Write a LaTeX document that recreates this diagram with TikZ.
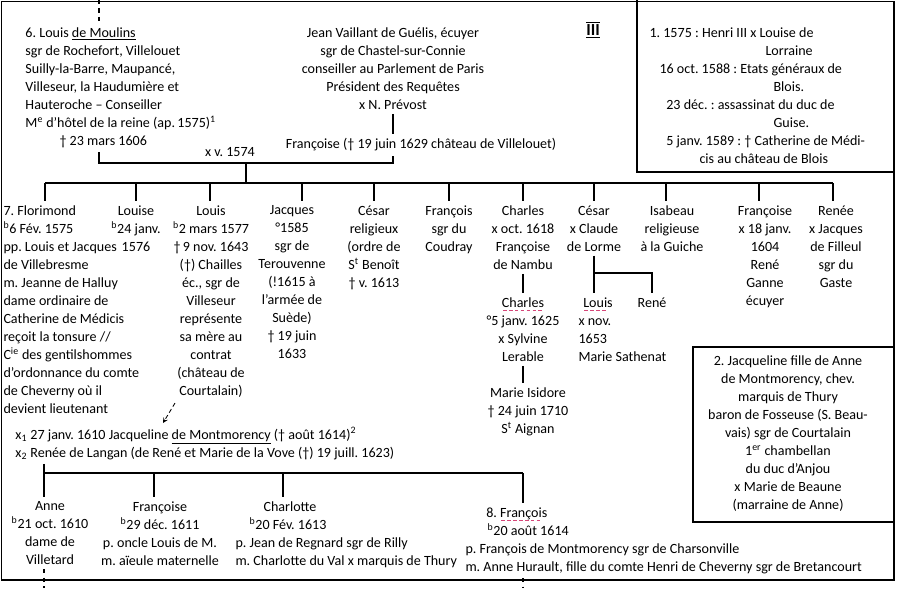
\documentclass[tikz,border=0pt]{standalone}
\usepackage{fontspec}
\setmainfont{Carlito}
\frenchspacing
\definecolor{dashpink}{RGB}{214,70,120}
\newcommand{\pinkul}[1]{\setbox0\hbox{#1}\rlap{\textcolor{dashpink}{\leaders\hbox to 0.42em{\hss\rule[-0.6ex]{0.26em}{0.6pt}\hss}\hskip\wd0}}\box0}

\begin{document}
\begin{tikzpicture}[>=stealth, x=0.025cm, y=-0.025cm,
	person/.style={
		% The text:
		font=\fontsize{10}{12.8}\selectfont,
		% The padding:
		inner sep=3pt,
		% The lines:
		align=center},
	tree/.style={line width=1.1pt},
	frame/.style={line width=0.9pt},
	pointer/.style={->, densely dashed, line width=0.6pt}]
    \useasboundingbox (0,0) rectangle (899,588);
    \draw [frame] (1.5,1.5) rectangle (894,580);
    \draw [line width=1.8pt] (637,0) -- (637,172) -- (895,172);
    \draw [frame] (693,347) rectangle (894,522);
    % parents
    \node [person, anchor=north west, align=left] (louis) at (21,23) {6. Louis \underline{de Moulins}\\ sgr de Rochefort, Villelouet\\ Suilly-la-Barre, Maupancé,\\ Villeseur, la Haudumière et\\ Hauteroche -- Conseiller\\ M\textsuperscript{e} d'hôtel de la reine (ap.\,1575)\textsuperscript{1}\\ \hspace*{0.85cm}† 23 mars 1606};
    \node [person, anchor=north] (jean) at (393,23) {Jean Vaillant de Guélis, écuyer\\ sgr de Chastel-sur-Connie\\ conseiller au Parlement de Paris\\ Président des Requêtes\\ x N. Prévost};
    \node [person, anchor=north] (fra) at (421,134) {Françoise († 19 juin 1629 château de Villelouet)};
    \node [person, font=\fontsize{12}{14}\selectfont\bfseries] (tome) at (593,30) {$\overline{\underline{\mbox{III}}}$};
    \node [person, anchor=north west, align=left] (note1) at (645,23) {1. 1575 : Henri III x Louise de\\ \hspace*{2.9cm}Lorraine\\ \hspace*{0.25cm}16 oct. 1588 : Etats généraux de\\ \hspace*{3.1cm}Blois.\\ \hspace*{0.42cm}23 déc. : assassinat du duc de\\ \hspace*{3.1cm}Guise.\\ \hspace*{0.42cm}5 janv. 1589 : † Catherine de Médi-\\ \hspace*{1.25cm}cis au château de Blois};
    \coordinate (top) at (99,0);
    \coordinate (mL) at (99,163);
    \coordinate (mF) at (393,163);
    \coordinate (mM) at (246,163);
    \coordinate (bus) at (246,183);
    \draw [tree, dashed] (top) -- (top |- louis.north);
    \draw [tree] (mL |- louis.south) -- (mL) -- (mF) -- (mF |- fra.south);
    \draw [tree] (jean.south) -- (jean.south |- fra.north);
    \node [person, anchor=south] (m1574) at (230,161) {x v. 1574};
    \draw [tree] (mM) -- (bus);
    % children
    \coordinate (b1) at (45,183);
    \coordinate (b2) at (136,183);
    \coordinate (b3) at (210,183);
    \coordinate (b4) at (302,183);
    \coordinate (b5) at (374,183);
    \coordinate (b6) at (449,183);
    \coordinate (b7) at (523,183);
    \coordinate (b8) at (594,183);
    \coordinate (b9) at (666,183);
    \coordinate (b10) at (759,183);
    \coordinate (b11) at (833,183);
    \node [person, anchor=north west, align=left] (c1) at (-1,201) {7. Florimond\\ \textsuperscript{b}6 Fév. 1575\\ pp. Louis et Jacques\\ de Villebresme\\ m. Jeanne de Halluy\\ dame ordinaire de\\ Catherine de Médicis\\ reçoit la tonsure //\\ C\textsuperscript{ie} des gentilshommes\\ d'ordonnance du comte\\ de Cheverny où il\\ devient lieutenant};
    \node [person, anchor=north] (c2) at (136,201) {Louise\\ \textsuperscript{b}24 janv.\\ 1576};
    \node [person, anchor=north] (c3) at (211,201) {Louis\\ \textsuperscript{b}2 mars 1577\\ †\,9 nov. 1643\\ (†) Chailles\\ éc., sgr de\\ Villeseur\\ représente\\ sa mère au\\ contrat\\ (château de\\ Courtalain)};
    \node [person, anchor=north] (c4) at (292,201) {Jacques\\ °1585\\ sgr de\\ Terouvenne\\ (!1615 à\\ l'armée de\\ Suède)\\ † 19 juin\\ 1633};
    \node [person, anchor=north] (c5) at (374,201) {César\\ religieux\\ (ordre de\\ S\textsuperscript{t} Benoît\\ † v. 1613};
    \node [person, anchor=north] (c6) at (449,201) {François\\ sgr du\\ Coudray};
    \node [person, anchor=north] (c7) at (523,201) {Charles\\ x oct. 1618\\ Françoise\\ de Nambu};
    \node [person, anchor=north] (c8) at (594,201) {César\\ x Claude\\ de Lorme};
    \node [person, anchor=north] (c9) at (672,201) {Isabeau\\ religieuse\\ à la Guiche};
    \node [person, anchor=north] (c10) at (765,201) {Françoise\\ x 18 janv.\\ 1604\\ René\\ Ganne\\ écuyer};
    \node [person, anchor=north] (c11) at (836,201) {Renée\\ x Jacques\\ de Filleul\\ sgr du\\ Gaste};
    \draw [tree] (b1) -- (b11);
    \draw [tree] (b1) -- (b1 |- c1.north);
    \draw [tree] (b2) -- (b2 |- c2.north);
    \draw [tree] (b3) -- (b3 |- c3.north);
    \draw [tree] (b4) -- (b4 |- c4.north);
    \draw [tree] (b5) -- (b5 |- c5.north);
    \draw [tree] (b6) -- (b6 |- c6.north);
    \draw [tree] (b7) -- (b7 |- c7.north);
    \draw [tree] (b8) -- (b8 |- c8.north);
    \draw [tree] (b9) -- (b9 |- c9.north);
    \draw [tree] (b10) -- (b10 |- c10.north);
    \draw [tree] (b11) -- (b11 |- c11.north);
    % grandchildren of Charles and César
    \node [person, anchor=north] (c7a) at (523,293) {\pinkul{Charles}\\ °5 janv. 1625\\ x Sylvine\\ Lerable};
    \node [person, anchor=north] (c7b) at (528,383) {Marie Isidore\\ † 24 juin 1710\\ S\textsuperscript{t} Aignan};
    \draw [tree] (c7) -- (c7a);
    \draw [tree] (c7a.south -| c7) -- (c7a.south |- c7b.north);
    \node [person, anchor=north west, align=left] (c8a) at (574,293) {\hspace*{0.12cm}\pinkul{Louis}\\ x nov.\\ 1653\\ Marie Sathenat};
    \node [person, anchor=north] (c8b) at (652,293) {René};
    \coordinate (br8) at (594,273);
    \draw [tree] (c8) -- (c8 |- c8a.north);
    \draw [tree] (br8) -| (c8b.north);
    \node [person] (note2) at (788,434) {2. Jacqueline fille de Anne\\ de Montmorency, chev.\\ marquis de Thury\\ baron de Fosseuse (S. Beau-\\ vais) sgr de Courtalain\\ 1\textsuperscript{er} chambellan\\ du duc d'Anjou\\ x Marie de Beaune\\ (marraine de Anne)};
    % Florimond's marriages
    \node [person, anchor=north west, align=left] (fmar) at (11,423) {x\textsubscript{1} 27 janv. 1610 Jacqueline \underline{de Montmorency} († août 1614)\textsuperscript{2}\\ x\textsubscript{2} Renée de Langan (de René et Marie de la Vove (†) 19 juill. 1623)};
    \coordinate (court) at (175,403);
    \coordinate (jacq) at (163,423);
    \draw [pointer] (court) -- (jacq);
    \coordinate (g0) at (44,473);
    \coordinate (g2) at (154,473);
    \coordinate (g3) at (283,473);
    \coordinate (g4) at (523,473);
    \node [person, anchor=north] (g1) at (50,497) {Anne\\ \textsuperscript{b}21 oct. 1610\\ dame de\\ Villetard};
    \node [person, anchor=north] (gf) at (160,497) {Françoise\\ \textsuperscript{b}29 déc. 1611\\ p. oncle Louis de M.\\ m. aïeule maternelle};
    \node [person, anchor=north west, align=left] (gc) at (231,497) {\hspace*{0.7cm}Charlotte\\ \hspace*{0.35cm}\textsuperscript{b}20 Fév. 1613\\ p. Jean de Regnard sgr de Rilly\\ m. Charlotte du Val x marquis de Thury};
    \node [person, anchor=north west, align=left] (gfr) at (461,503) {\hspace*{0.52cm}8. \pinkul{François}\\ \hspace*{0.55cm}\textsuperscript{b}20 août 1614\\ p. François de Montmorency sgr de Charsonville\\ m. Anne Hurault, fille du comte Henri de Cheverny sgr de Bretancourt};
    \draw [tree] (g0 |- fmar.south) -- (g0 |- g1.north);
    \draw [tree] (g0) -- (g4);
    \draw [tree] (g2) -- (g2 |- gf.north);
    \draw [tree] (g3) -- (g3 |- gc.north);
    \draw [tree] (g4) -- (g4 |- gfr.north);
    \coordinate (endA) at (44,588);
    \coordinate (endF) at (523,588);
    \draw [tree, dashed] (endA |- g1.south) -- (endA);
    \draw [tree, dashed] (endF |- gfr.south) -- (endF);
\end{tikzpicture}
\end{document}
